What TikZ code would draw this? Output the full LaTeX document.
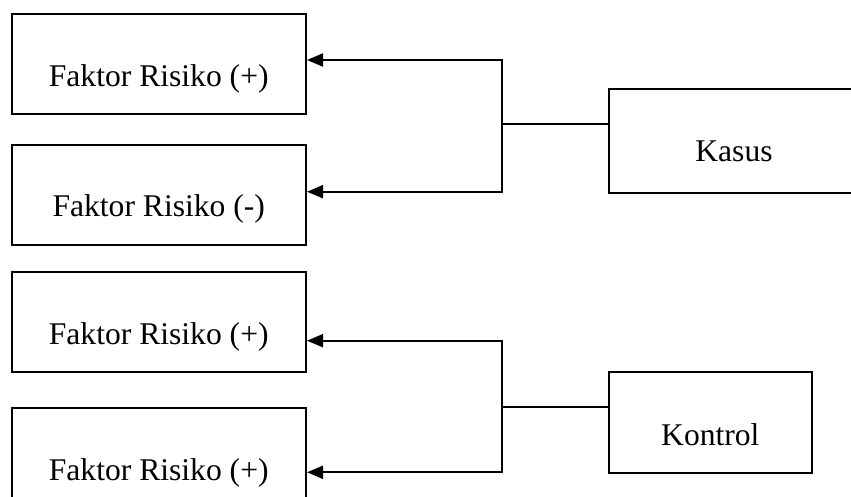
\documentclass[tikz,border=0pt]{standalone}
\usepackage{fontspec}
\setmainfont{Liberation Serif}
\usetikzlibrary{arrows.meta}

\tikzset{
  frbox/.style={draw, line width=1pt, rectangle, anchor=north west, inner sep=0pt,
    minimum width=147.25pt, text height=36pt, text depth=14pt,
    font=\fontsize{15.8}{19}\selectfont},
  grpbox/.style={draw, line width=1pt, rectangle, anchor=north west, inner sep=0pt,
    font=\fontsize{15.8}{19}\selectfont},
  link/.style={line width=1pt},
  arrowlink/.style={line width=1pt, -{Triangle[length=8pt,width=6.5pt]}},
}

\begin{document}
\begin{tikzpicture}[x=0.5pt, y=-0.5pt]
  \clip (0,0) rectangle (851,497);

  % risk factor boxes
  \node[frbox] (f1) at (10.5,13.5) {Faktor Risiko (+)};
  \node[frbox] (f2) at (10.5,144)  {Faktor Risiko (-)};
  \node[frbox] (f3) at (10.5,271)  {Faktor Risiko (+)};
  \node[frbox] (f4) at (10.5,407)  {Faktor Risiko (+)};

  % group boxes
  \node[grpbox, minimum width=125.3pt, text height=36.2pt, text depth=15.5pt]
    (kasus) at (607.7,88.3) {Kasus};
  \node[grpbox, minimum width=101.65pt, text height=36.5pt, text depth=14pt]
    (kontrol) at (607.7,371) {Kontrol};

  % branch points on the vertical buses
  \coordinate (ka) at (502,124.3);
  \coordinate (ka1) at (502,60);
  \coordinate (ka2) at (502,191.7);
  \coordinate (ko) at (502,407.3);
  \coordinate (ko1) at (502,340.7);
  \coordinate (ko2) at (502,472.3);

  % Kasus connectors
  \draw[link] (ka) -- (ka -| kasus.west);
  \draw[arrowlink] (ka) |- (f1.east |- ka1);
  \draw[arrowlink] (ka) |- (f2.east |- ka2);

  % Kontrol connectors
  \draw[link] (ko) -- (ko -| kontrol.west);
  \draw[arrowlink] (ko) |- (f3.east |- ko1);
  \draw[arrowlink] (ko) |- (f4.east |- ko2);
\end{tikzpicture}
\end{document}
